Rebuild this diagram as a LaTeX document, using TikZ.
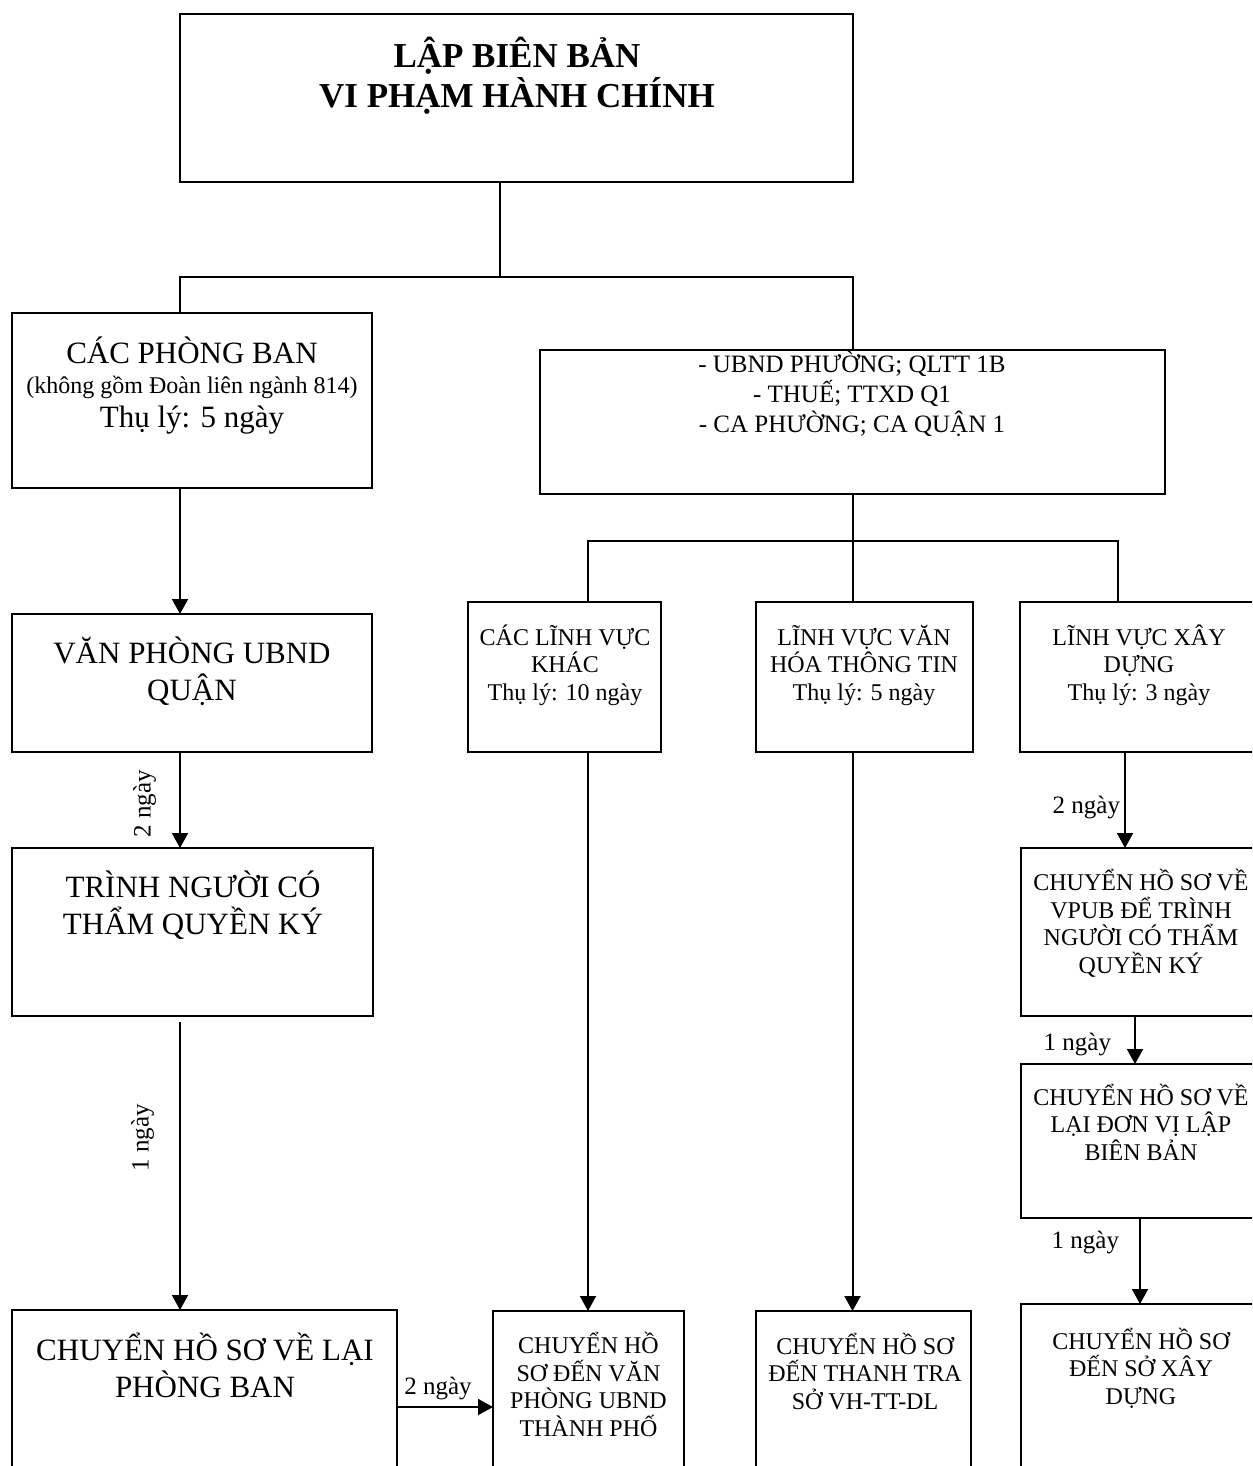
\documentclass[tikz,border=0pt]{standalone}
\usepackage{fontspec}
\setmainfont{Liberation Serif}
\usetikzlibrary{arrows.meta,positioning}
\tikzset{
  box/.style={draw, line width=2.4pt, anchor=north west, inner sep=0pt, outer sep=0pt},
  big/.style={anchor=base, align=center, inner sep=0pt, font=\fontsize{31}{37}\selectfont},
  mid/.style={big, font=\fontsize{25}{30}\selectfont},
  small/.style={big, font=\fontsize{24}{27.5}\selectfont},
  days/.style={inner sep=0pt, font=\fontsize{25}{30}\selectfont},
  conn/.style={line width=2pt},
  arr/.style={line width=2pt, -{Triangle[width=16pt,length=15pt]}},
}
\begin{document}
\begin{tikzpicture}[x=1pt,y=-1pt]
\clip (0,0) rectangle (1252,1466);

% dau quy trinh
\node[box, minimum width=673, minimum height=168] (lap) at (180,14) {};
\node[big, font=\fontsize{35}{40}\selectfont\bfseries] (lapt) at (517,108) {LẬP BIÊN BẢN\\VI PHẠM HÀNH CHÍNH};
\coordinate (bus1) at (500,277);

% nhanh trai: cac phong ban
\node[box, minimum width=360, minimum height=175] (cpb) at (12,313) {};
\node[big] (cpbt) at (192,427) {CÁC PHÒNG BAN\\[-7pt]{\fontsize{24}{29}\selectfont(không gồm Đoàn liên ngành 814)}\\[-3pt]Thụ lý: 5 ngày};
\node[box, minimum width=360, minimum height=138] (vpq) at (12,614) {};
\node[big] (vpqt) at (192,700) {VĂN PHÒNG UBND\\QUẬN};
\node[box, minimum width=361, minimum height=168] (tnc) at (12,848) {};
\node[big] (tnct) at (193,934) {TRÌNH NGƯỜI CÓ\\THẨM QUYỀN KÝ};
\node[box, minimum width=385, minimum height=194] (chpb) at (12,1310) {};
\node[big] (chpbt) at (205,1397) {CHUYỂN HỒ SƠ VỀ LẠI\\PHÒNG BAN};

% nhanh phai: ubnd phuong, thue, ca
\node[box, minimum width=625, minimum height=144] (ubnd) at (540,350) {};
\node[mid] (ubndt) at (852,432) {- UBND PHƯỜNG; QLTT 1B\\- THUẾ; TTXD Q1\\- CA PHƯỜNG; CA QUẬN 1};
\coordinate (c1) at (588,541);
\coordinate (c2) at (852.5,541);
\coordinate (c3) at (1118,541);

\node[box, minimum width=193, minimum height=150] (lvk) at (468,602) {};
\node[small] (lvkt) at (565,700) {CÁC LĨNH VỰC\\KHÁC\\Thụ lý: 10 ngày};
\node[box, minimum width=217, minimum height=150] (lvv) at (756,602) {};
\node[small] (lvvt) at (864,700) {LĨNH VỰC VĂN\\HÓA THÔNG TIN\\Thụ lý: 5 ngày};
\node[box, minimum width=260, minimum height=150] (lvx) at (1020,602) {};
\node[small] (lvxt) at (1139,700) {LĨNH VỰC XÂY\\DỰNG\\Thụ lý: 3 ngày};

\node[box, minimum width=260, minimum height=168] (cvp) at (1021,848) {};
\node[small] (cvpt) at (1141,973) {CHUYỂN HỒ SƠ VỀ\\VPUB ĐỂ TRÌNH\\NGƯỜI CÓ THẨM\\QUYỀN KÝ};
\node[box, minimum width=260, minimum height=154] (cdv) at (1021,1064) {};
\node[small] (cdvt) at (1141,1160) {CHUYỂN HỒ SƠ VỀ\\LẠI ĐƠN VỊ LẬP\\BIÊN BẢN};

% cuoi quy trinh
\node[box, minimum width=191, minimum height=200] (cdvp) at (493,1311) {};
\node[small] (cdvpt) at (588.5,1436) {CHUYỂN HỒ\\SƠ ĐẾN VĂN\\PHÒNG UBND\\THÀNH PHỐ};
\node[box, minimum width=215, minimum height=200] (cttr) at (756,1311) {};
\node[small] (cttrt) at (865,1409) {CHUYỂN HỒ SƠ\\ĐẾN THANH TRA\\SỞ VH-TT-DL};
\node[box, minimum width=260, minimum height=200] (csxd) at (1021,1304) {};
\node[small] (csxdt) at (1141,1404) {CHUYỂN HỒ SƠ\\ĐẾN SỞ XÂY\\DỰNG};

% duong noi
\draw[line width=1.2pt] (lap.south -| bus1) -- (bus1);
\draw[conn] (cpb.north -| lap.west) |- (bus1) -| (ubnd.north);
\draw[conn] (ubnd.south) -- (c2 |- lvv.north);
\draw[conn] (c1 |- lvk.north) -- (c1) -- (c3) -- (c3 |- lvx.north);

\draw[arr] (cpb.south -| lap.west) -- (vpq.north -| lap.west);
\draw[arr] (vpq.south -| lap.west) -- node[days, pos=.54, xshift=-23pt, rotate=90, anchor=south] {2 ngày} (tnc.north -| lap.west);
\draw[arr, shorten <=6pt] (tnc.south -| lap.west) -- node[days, pos=.415, xshift=-25pt, rotate=90, anchor=south] {1 ngày} (chpb.north -| lap.west);
\draw[arr] (chpb.east) -- node[days, midway, above=6pt, xshift=-7pt] {2 ngày} (chpb.east -| cdvp.west);

\draw[arr] (c1 |- lvk.south) -- (c1 |- cdvp.north);
\draw[arr] (c2 |- lvv.south) -- (c2 |- cttr.north);
\draw[arr] ([xshift=105pt]lvx.south west) -- node[days, pos=.58, left=4pt] {2 ngày} ([xshift=104pt]cvp.north west);
\draw[arr] ([xshift=114pt]cvp.south west) -- node[days, pos=.6, left=23pt] {1 ngày} ([xshift=114pt]cdv.north west);
\draw[arr] ([xshift=119pt]cdv.south west) -- node[days, pos=.29, left=20pt] {1 ngày} ([xshift=119pt]csxd.north west);
\end{tikzpicture}
\end{document}
